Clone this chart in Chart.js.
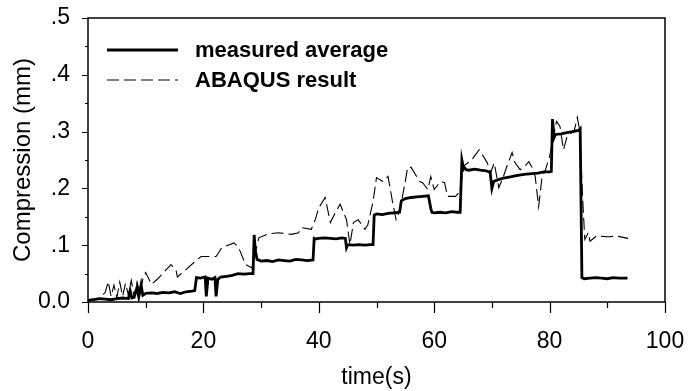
<!DOCTYPE html>
<html>
<head>
<meta charset="utf-8">
<script src="https://cdn.jsdelivr.net/npm/chart.js@4/dist/chart.umd.min.js"></script>
<style>
  html, body { margin: 0; padding: 0; background: #fff; }
  #wrap { width: 690px; height: 391px; position: relative; }
</style>
</head>
<body>
<div id="wrap"><canvas id="myChart"></canvas></div>
<script>
// measured average (s, mm)
const measuredTime = [0, 1, 2, 3, 4, 5, 6, 7, 7.3, 7.6, 8, 8.5, 8.8, 9.2, 9.5, 10, 11, 12, 13, 14, 15, 16, 17, 18, 18.5,
  18.8, 19.5, 20.3, 20.5, 20.8, 21.5, 22, 22.2, 22.5, 23, 24, 25, 26, 27, 28, 28.6, 28.8, 29, 29.3, 30, 31, 32, 33, 34,
  35, 36, 37, 38, 39, 39.2, 39.4, 40, 41, 42, 43, 44, 44.6, 44.8, 45, 46, 47, 48, 49, 49.4, 49.6, 50, 51, 52, 53, 54,
  54.3, 55, 56, 57, 58, 59, 59.4, 59.6, 60, 61, 62, 63, 64, 64.5, 64.8, 65, 65.5, 66, 67, 68, 69, 69.7, 70, 70.3, 71,
  72, 73, 74, 75, 76, 77, 78, 79, 80, 80.3, 80.5, 80.8, 81, 82, 83, 84, 85, 85.3, 85.6, 86, 87, 88, 89, 90, 91, 92, 93, 93.5];
const measuredComp = [0.003, 0.004, 0.006, 0.005, 0.004, 0.006, 0.007, 0.006, 0.02, 0.007, 0.008, 0.026, 0.009, 0.03, 0.012,
  0.015, 0.016, 0.015, 0.017, 0.016, 0.018, 0.015, 0.018, 0.019, 0.02,
  0.043, 0.042, 0.044, 0.01, 0.042, 0.04, 0.043, 0.01, 0.04, 0.044, 0.045, 0.047, 0.05, 0.049, 0.05, 0.05, 0.118, 0.09,
  0.075, 0.072, 0.073, 0.071, 0.074, 0.073, 0.072, 0.075, 0.074, 0.073, 0.074, 0.112, 0.111, 0.112, 0.113, 0.112, 0.111,
  0.113, 0.112, 0.096, 0.101, 0.1, 0.101, 0.1, 0.101, 0.101, 0.153, 0.155, 0.154, 0.156, 0.157, 0.158, 0.178, 0.182,
  0.184, 0.185, 0.186, 0.187, 0.165, 0.158, 0.157, 0.158, 0.157, 0.159, 0.158, 0.158, 0.25, 0.24, 0.233, 0.232, 0.234,
  0.232, 0.231, 0.228, 0.2, 0.212, 0.215, 0.218, 0.22, 0.222, 0.224, 0.225, 0.226, 0.227, 0.229, 0.229, 0.23, 0.322,
  0.29, 0.295, 0.296, 0.298, 0.3, 0.302, 0.305, 0.043, 0.041, 0.042, 0.043, 0.042, 0.041, 0.043, 0.042, 0.042, 0.042];

// ABAQUS result (s, mm)
const abaqusTime = [0, 1, 2, 3, 3.5, 4, 4.5, 5, 5.5, 6, 6.5, 7, 7.5, 8, 8.5, 9, 9.5, 10, 11, 12, 14.4, 15.3, 15.5, 18.4,
  19.6, 22.2, 23.2, 25.3, 26.1, 27.3, 28.4, 29.6, 31.3, 33, 35.3, 36.5, 37, 38.7, 39.4, 40, 41.1, 42, 43, 43.7, 44.8,
  45.4, 46, 46.8, 48, 48.5, 49.4, 50, 51.1, 52, 52.8, 53.4, 54, 54.9, 55.4, 56, 57.5, 58, 58.9, 59.4, 60, 61.1, 61.8,
  62.3, 63.7, 64.4, 65.2, 66.5, 67.8, 68.3, 69.2, 69.8, 70.4, 71.2, 72, 72.6, 73.5, 74, 74.9, 75.7, 76.4, 77, 77.5,
  78.1, 78.7, 79.2, 80, 81.2, 81.8, 82.4, 83, 84.3, 84.8, 85.2, 85.8, 86.1, 86.7, 87, 88.1, 90.2, 91.6, 93.6];
const abaqusComp = [0.004, 0.005, 0.006, 0.017, 0.036, 0.01, 0.03, 0.008, 0.035, 0.01, 0.033, 0.012, 0.038, 0.01, 0.035,
  0.015, 0.04, 0.052, 0.031, 0.04, 0.066, 0.054, 0.044, 0.07, 0.08, 0.08, 0.096, 0.104, 0.096, 0.066, 0.06, 0.113,
  0.12, 0.122, 0.119, 0.122, 0.131, 0.128, 0.145, 0.166, 0.184, 0.14, 0.16, 0.172, 0.145, 0.101, 0.14, 0.145, 0.128,
  0.136, 0.177, 0.219, 0.212, 0.221, 0.175, 0.145, 0.16, 0.207, 0.237, 0.237, 0.212, 0.21, 0.198, 0.221, 0.198, 0.212,
  0.21, 0.186, 0.186, 0.194, 0.24, 0.25, 0.268, 0.26, 0.245, 0.228, 0.245, 0.201, 0.221, 0.239, 0.263, 0.245, 0.233,
  0.239, 0.247, 0.236, 0.221, 0.168, 0.221, 0.23, 0.256, 0.318, 0.309, 0.268, 0.29, 0.303, 0.325, 0.303, 0.168, 0.11,
  0.122, 0.107, 0.116, 0.115, 0.116, 0.112];

const seriesNames = ['measured average', 'ABAQUS result'];

function toPoints(xs, ys) {
    return xs.map((x, i) => ({ x: x, y: ys[i] }));
}

const fontFamily = "'Liberation Sans', Arial, sans-serif";

// frame, tick marks (major/minor) and the legend inside the plot
const framePlugin = {
    id: 'frame',
    afterDraw(chart) {
        const ctx = chart.ctx;
        const a = chart.chartArea;
        const xs = chart.scales.x;
        const ys = chart.scales.y;
        ctx.save();
        ctx.strokeStyle = '#000';
        ctx.lineWidth = 1.5;
        ctx.strokeRect(a.left, a.top, a.right - a.left, a.bottom - a.top);

        ctx.lineWidth = 1.2;
        ctx.beginPath();
        xs.ticks.forEach(t => {
            const px = Math.round(xs.getPixelForValue(t.value)) + 0.5;
            const len = t.value % 20 === 0 ? 11 : 6;
            ctx.moveTo(px, a.bottom);
            ctx.lineTo(px, a.bottom + len);
        });
        ys.ticks.forEach(t => {
            const py = Math.round(ys.getPixelForValue(t.value)) + 0.5;
            const len = Math.round(t.value * 20) % 2 === 0 ? 6 : 3;
            ctx.moveTo(a.left, py);
            ctx.lineTo(a.left - len, py);
        });
        ctx.stroke();

        ctx.font = 'bold 22px ' + fontFamily;
        ctx.textBaseline = 'middle';
        ctx.fillStyle = '#000';
        chart.data.datasets.forEach((ds, i) => {
            const y = a.top + 32 + i * 30;
            ctx.beginPath();
            ctx.lineWidth = ds.borderWidth;
            ctx.setLineDash(ds.borderDash || []);
            ctx.moveTo(a.left + 19, y);
            ctx.lineTo(a.left + 90, y);
            ctx.stroke();
            ctx.setLineDash([]);
            ctx.fillText(ds.label, a.left + 107, y + 1);
        });
        ctx.restore();
    }
};

const ctx = document.getElementById('myChart').getContext('2d');
const myChart = new Chart(ctx, {
    type: 'line',
    data: {
        datasets: [{
            label: seriesNames[0],
            data: toPoints(measuredTime, measuredComp),
            borderColor: '#000',
            borderWidth: 2.8,
            pointRadius: 0,
            tension: 0
        }, {
            label: seriesNames[1],
            data: toPoints(abaqusTime, abaqusComp),
            borderColor: '#000',
            borderWidth: 1.1,
            borderDash: [12, 5],
            pointRadius: 0,
            tension: 0
        }]
    },
    options: {
        responsive: true,
        maintainAspectRatio: false,
        animation: false,
        layout: { padding: { top: 18, right: 25, left: 0, bottom: 0 } },
        plugins: {
            legend: { display: false },
            tooltip: { enabled: false }
        },
        scales: {
            x: {
                type: 'linear',
                min: 0,
                max: 100,
                border: { display: false },
                // tick marks are drawn by the plugin; the invisible ones only space the labels
                grid: { drawOnChartArea: false, tickLength: 26, tickColor: 'rgba(0,0,0,0)' },
                ticks: {
                    stepSize: 10,
                    color: '#000',
                    padding: 0,
                    maxRotation: 0,
                    autoSkip: false,
                    font: { family: fontFamily, size: 23 },
                    callback: v => (v % 20 === 0 ? String(v) : '')
                },
                title: {
                    display: true,
                    text: 'time(s)',
                    color: '#000',
                    padding: { top: 0, bottom: 0 },
                    font: { family: fontFamily, size: 23 }
                },
                afterFit(scale) { scale.height = 89; }
            },
            y: {
                min: 0,
                max: 0.5,
                border: { display: false },
                grid: { drawOnChartArea: false, tickLength: 18, tickColor: 'rgba(0,0,0,0)' },
                ticks: {
                    stepSize: 0.05,
                    color: '#000',
                    padding: 0,
                    autoSkip: false,
                    font: { family: fontFamily, size: 23 },
                    callback: v => {
                        const n = Math.round(v * 20);
                        if (n % 2) return '';
                        return n === 0 ? '0.0' : '.' + (n / 2);
                    }
                },
                title: {
                    display: true,
                    text: 'Compression (mm)',
                    color: '#000',
                    padding: { top: 9, bottom: 0 },
                    font: { family: fontFamily, size: 24 }
                },
                afterFit(scale) { scale.width = 88; }
            }
        }
    },
    plugins: [framePlugin]
});
</script>
</body>
</html>
